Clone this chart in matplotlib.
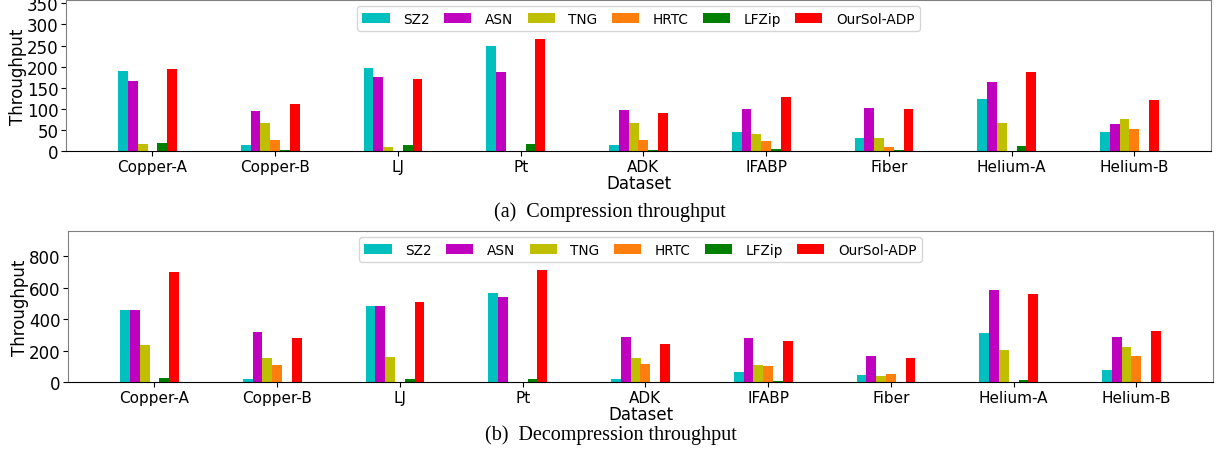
import numpy as np
import matplotlib
matplotlib.use("Agg")
import matplotlib.pyplot as plt

datasets = ["Copper-A", "Copper-B", "LJ", "Pt", "ADK", "IFABP", "Fiber", "Helium-A", "Helium-B"]
methods = ["SZ2", "ASN", "TNG", "HRTC", "LFZip", "OurSol-ADP"]
colors = ["c", "m", "y", "tab:orange", "green", "red"]

# Compression throughput
comp_sz2 = [190, 14, 197, 249, 14, 45, 31, 123, 45]
comp_asn = [166, 95, 175, 187, 97, 100, 102, 164, 64]
comp_tng = [17, 66, 9, 0, 66, 40, 31, 66, 76]
comp_hrtc = [0, 26, 0, 0, 26, 24, 9, 0, 52]
comp_lfzip = [19, 2, 14, 16, 2, 5, 2, 12, 0]
comp_oursol = [194, 111, 170, 265, 90, 128, 100, 187, 121]

# Decompression throughput
dec_sz2 = [460, 21, 485, 567, 21, 65, 46, 313, 78]
dec_asn = [460, 320, 485, 542, 288, 281, 167, 586, 288]
dec_tng = [237, 155, 160, 0, 155, 110, 40, 205, 224]
dec_hrtc = [0, 110, 0, 0, 116, 104, 52, 0, 167]
dec_lfzip = [27, 2, 21, 21, 2, 8, 2, 15, 2]
dec_oursol = [700, 281, 510, 713, 243, 262, 155, 561, 326]

comp = [comp_sz2, comp_asn, comp_tng, comp_hrtc, comp_lfzip, comp_oursol]
dec = [dec_sz2, dec_asn, dec_tng, dec_hrtc, dec_lfzip, dec_oursol]

W, H = 1217, 452
fig = plt.figure(figsize=(W / 100, H / 100), dpi=100)

def make_axes(l, r, t, b):
    return fig.add_axes([l / W, 1 - b / H, (r - l) / W, (b - t) / H])

ax1 = make_axes(66, 1211, 1, 152)
ax2 = make_axes(68, 1213, 232, 383.3)

x = np.arange(len(datasets))
w = 0.08

def draw(ax, data, ymax, yticks):
    for i, (vals, col, name) in enumerate(zip(data, colors, methods)):
        ax.bar(x + (i - 3) * w, vals, w, color=col, label=name, linewidth=0)
    ax.set_ylim(0, ymax)
    ax.set_yticks(yticks)
    ax.set_xticks(x)
    ax.set_xticklabels(datasets, fontsize=11)
    ax.tick_params(axis="y", labelsize=12, pad=2)
    ax.tick_params(axis="x", pad=2)
    ax.set_ylabel("Throughput", fontsize=12, labelpad=0)
    ax.set_xlabel("Dataset", fontsize=12, labelpad=0)
    for s in ["top", "right", "left"]:
        ax.spines[s].set_color("gray")
    ax.spines["bottom"].set_color("black")
    ax.legend(loc="upper center", ncol=6, fontsize=9.8, handletextpad=1.0,
              columnspacing=1.05, borderaxespad=0.45)

draw(ax1, comp, 358, np.arange(0, 351, 50))
draw(ax2, dec, 960, np.arange(0, 801, 200))

fig.text(610 / W, 1 - 217 / H, "(a)  Compression throughput", ha="center", va="baseline",
         fontsize=14.5, family="Liberation Serif")
fig.text(611 / W, 1 - 440 / H, "(b)  Decompression throughput", ha="center", va="baseline",
         fontsize=14.5, family="Liberation Serif")

fig.savefig("out.png", dpi=100)
